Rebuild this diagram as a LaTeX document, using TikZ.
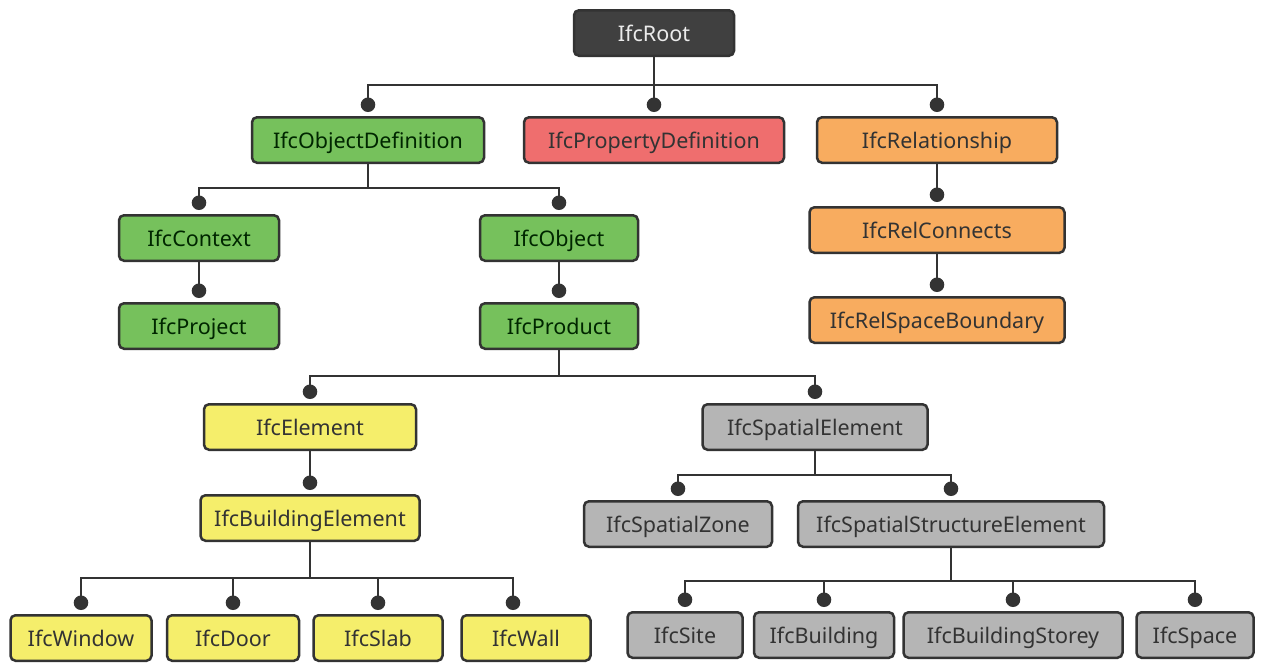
\documentclass[tikz,border=0pt]{standalone}
\usepackage{fontspec}
\setmainfont{Noto Sans}
\usetikzlibrary{arrows.meta}
\definecolor{linec}{HTML}{333333}
\definecolor{rootc}{HTML}{404040}
\definecolor{greenc}{HTML}{76C15C}
\definecolor{pinkc}{HTML}{EF6E6E}
\definecolor{orangec}{HTML}{F8AC5F}
\definecolor{yellowc}{HTML}{F5EE6B}
\definecolor{grayc}{HTML}{B5B5B5}
\begin{document}
\begin{tikzpicture}[x=1pt,y=-1pt,
  box/.style={draw=linec, line width=2.5pt, rounded corners=5pt, minimum height=45.5pt,
    inner sep=0pt, text=linec, font=\fontsize{21.5}{25}\selectfont, text height=20pt, text depth=4pt},
  rootbox/.style={box, fill=rootc, text=white!92!black},
  gbox/.style={box, fill=greenc, text=black!75!green!60!black},
  pbox/.style={box, fill=pinkc},
  obox/.style={box, fill=orangec},
  ybox/.style={box, fill=yellowc},
  sbox/.style={box, fill=grayc},
  conn/.style={draw=linec, line width=2.5pt, -{Circle[length=14.5pt]}},
  ]
\clip (0,0) rectangle (1264,662);
\fill[white] (0,0) rectangle (1264,662);

% boxes
\node[rootbox, minimum width=160pt] (root) at (654,33) {IfcRoot};
\node[gbox, minimum width=232pt] (objdef) at (368,140) {IfcObjectDefinition};
\node[pbox, minimum width=260pt] (propdef) at (654,140) {IfcPropertyDefinition};
\node[obox, minimum width=240pt] (rel) at (937,140) {IfcRelationship};
\node[gbox, minimum width=160pt] (context) at (199,238) {IfcContext};
\node[gbox, minimum width=158pt] (object) at (559,238) {IfcObject};
\node[obox, minimum width=255pt] (relconn) at (937,230) {IfcRelConnects};
\node[gbox, minimum width=160pt] (project) at (199,326) {IfcProject};
\node[gbox, minimum width=158pt] (product) at (559,326) {IfcProduct};
\node[obox, minimum width=255pt] (relsb) at (937,320) {IfcRelSpaceBoundary};
\node[ybox, minimum width=212pt] (element) at (310,427) {IfcElement};
\node[sbox, minimum width=225pt] (spel) at (815,427) {IfcSpatialElement};
\node[ybox, minimum width=219pt] (buildel) at (310,518) {IfcBuildingElement};
\node[sbox, minimum width=188pt] (spzone) at (678,524) {IfcSpatialZone};
\node[sbox, minimum width=306pt] (sse) at (951,524) {IfcSpatialStructureElement};
\node[ybox, minimum width=141pt] (window) at (81,638) {IfcWindow};
\node[ybox, minimum width=132pt] (door) at (233,638) {IfcDoor};
\node[ybox, minimum width=129pt] (slab) at (378,638) {IfcSlab};
\node[ybox, minimum width=129pt] (wall) at (526,638) {IfcWall};
\node[sbox, minimum width=115pt] (site) at (685,635) {IfcSite};
\node[sbox, minimum width=140pt] (building) at (824,635) {IfcBuilding};
\node[sbox, minimum width=219pt] (storey) at (1013,635) {IfcBuildingStorey};
\node[sbox, minimum width=117pt] (space) at (1195,635) {IfcSpace};

% bus bars
\coordinate (b0) at (654,85);
\coordinate (b1) at (368,188);
\coordinate (b2) at (559,376);
\coordinate (b3) at (815,475);
\coordinate (b4) at (310,578);
\coordinate (b5) at (951,581);

% connectors
\foreach \c in {objdef,propdef,rel}
  \draw[conn] (root.south) -- (b0) -| ([yshift=4pt]\c.north);
\foreach \c in {context,object}
  \draw[conn] (objdef.south) -- (b1) -| ([yshift=4pt]\c.north);
\draw[conn] (rel.south) -- ([yshift=4pt]relconn.north);
\draw[conn] (relconn.south) -- ([yshift=4pt]relsb.north);
\draw[conn] (context.south) -- ([yshift=4pt]project.north);
\draw[conn] (object.south) -- ([yshift=4pt]product.north);
\foreach \c in {element,spel}
  \draw[conn] (product.south) -- (b2) -| ([yshift=4pt]\c.north);
\draw[conn] (element.south) -- ([yshift=4pt]buildel.north);
\foreach \c in {spzone,sse}
  \draw[conn] (spel.south) -- (b3) -| ([yshift=4pt]\c.north);
\foreach \c in {window,door,slab}
  \draw[conn] (buildel.south) -- (b4) -| ([yshift=4pt]\c.north);
\draw[conn] (buildel.south) -- (b4) -| ([xshift=-13pt,yshift=4pt]wall.north);
\foreach \c in {site,building,storey,space}
  \draw[conn] (sse.south) -- (b5) -| ([yshift=4pt]\c.north);
\end{tikzpicture}
\end{document}
